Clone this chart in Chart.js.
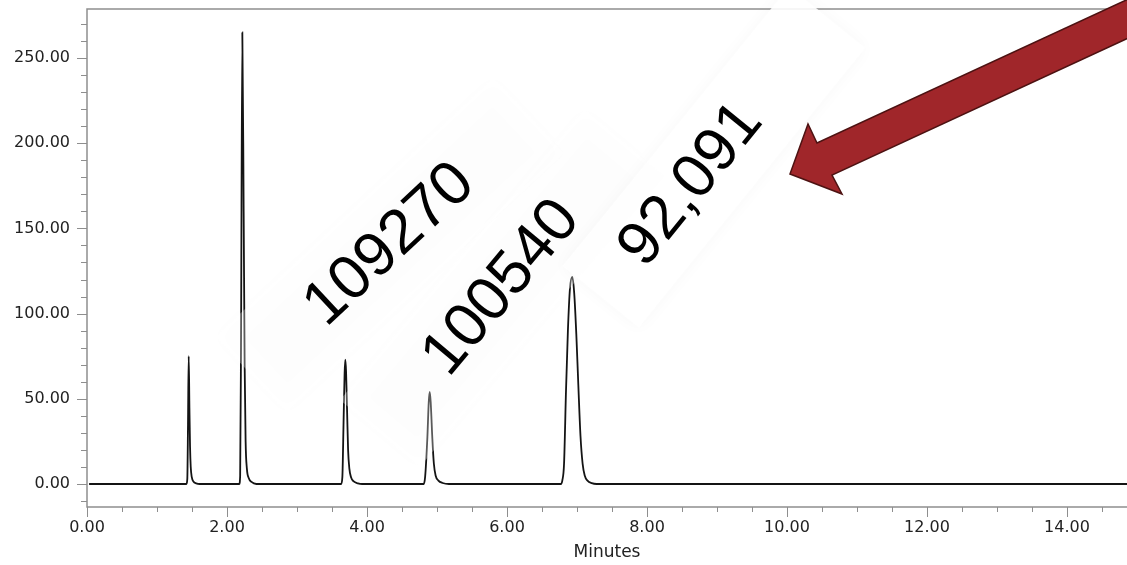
<!DOCTYPE html>
<html>
<head>
<meta charset="utf-8">
<script src="https://cdn.jsdelivr.net/npm/chart.js@4.4.1/dist/chart.umd.min.js"></script>
<style>
  html, body { margin: 0; padding: 0; background: #ffffff; }
  #wrap { width: 1127px; height: 565px; }
</style>
</head>
<body>
<div id="wrap"><canvas id="chrom" width="1127" height="565"></canvas></div>
<script>
// trace: minutes vs detector signal
const traceMinutes = [
  0.03,
  1.42, 1.433, 1.443, 1.453, 1.463, 1.472, 1.482, 1.497, 1.52, 1.56, 1.61,
  2.175, 2.188, 2.2, 2.219, 2.238, 2.252, 2.266, 2.284, 2.31, 2.35, 2.42,
  3.63, 3.648, 3.665, 3.68, 3.69, 3.701, 3.716, 3.73, 3.748, 3.772, 3.81, 3.87, 3.93,
  4.81, 4.83, 4.862, 4.882, 4.896, 4.91, 4.933, 4.955, 4.98, 5.02, 5.08, 5.17,
  6.77, 6.79, 6.815, 6.843, 6.87, 6.9, 6.933, 6.96, 6.99, 7.019, 7.05, 7.08, 7.11, 7.15, 7.21, 7.28,
  14.95
];
const traceSignal = [
  0,
  0, 3, 35, 75, 45, 22, 10, 4, 1.5, 0.4, 0,
  0, 5, 80, 265, 160, 70, 25, 9, 3.5, 1.2, 0,
  0, 4, 36, 65, 73, 66, 42, 20, 9, 4, 1.5, 0.4, 0,
  0, 4, 27, 48, 54, 48, 27, 12, 5, 2, 0.6, 0,
  0, 2, 12, 55, 90, 115, 121.5, 112, 88, 58, 28, 12, 5, 2, 0.5, 0,
  0
];
const xTickValues = [0, 2, 4, 6, 8, 10, 12, 14];
const yTickValues = [0, 50, 100, 150, 200, 250];
const areaLabels = ["109270", "100540", "92,091"];
const xTitle = "Minutes";

const X_MIN = 0, X_MAX = 14.857;
const Y_MIN = -13.5, Y_MAX = 278.75;
const FRAME = "#8e8e8e";
const INK = "#222222";

// rotated labels (canvas pixels), one per entry of areaLabels; tx = text offset along the box
const labelBoxes = [
  { x: 390, y: 245, angle: -43, w: 380, h: 104, tx: 0, alpha: 0.3 },
  { x: 502, y: 288, angle: -50, w: 380, h: 104, tx: 0, alpha: 0.3 },
  { x: 714, y: 157, angle: -51, w: 360, h: 98, tx: -36, alpha: 0.9 },
];
const arrowPts = [[790, 174], [808, 124], [817, 143], [1150, -11], [1150, 28], [832, 175], [842, 194]];

const decor = {
  id: "decor",
  beforeDatasetsDraw(chart) {
    const { ctx, chartArea: a, scales: { x, y } } = chart;
    ctx.save();
    ctx.strokeStyle = FRAME;
    ctx.lineWidth = 1.5;
    ctx.beginPath();
    ctx.moveTo(a.right + 2, a.top);
    ctx.lineTo(a.left, a.top);
    ctx.lineTo(a.left, a.bottom);
    ctx.lineTo(a.right + 2, a.bottom);
    ctx.stroke();

    // major / minor tick marks
    ctx.lineWidth = 1;
    ctx.beginPath();
    for (let v = -10; v <= 270; v += 10) {
      const py = Math.round(y.getPixelForValue(v)) + 0.5;
      const len = v % 50 === 0 ? 10 : 6;
      ctx.moveTo(a.left - len, py);
      ctx.lineTo(a.left, py);
    }
    for (let m = 0; m <= 14.5; m += 0.5) {
      const px = Math.round(x.getPixelForValue(m)) + 0.5;
      const len = m % 2 === 0 ? 10 : 5;
      ctx.moveTo(px, a.bottom);
      ctx.lineTo(px, a.bottom + len);
    }
    ctx.stroke();
    ctx.restore();
  },
  afterDatasetsDraw(chart) {
    const { ctx } = chart;

    // soft white boxes behind the numbers
    labelBoxes.forEach((b) => {
      ctx.save();
      ctx.translate(b.x, b.y);
      ctx.rotate((b.angle * Math.PI) / 180);
      ctx.shadowColor = "rgba(0,0,0,0.035)";
      ctx.shadowBlur = 16;
      ctx.fillStyle = `rgba(255,255,255,${b.alpha})`;
      ctx.fillRect(-b.w / 2, -b.h / 2, b.w, b.h);
      ctx.restore();
    });

    labelBoxes.forEach((b, i) => {
      ctx.save();
      ctx.translate(b.x, b.y);
      ctx.rotate((b.angle * Math.PI) / 180);
      ctx.fillStyle = "#000000";
      ctx.font = '62px "Liberation Sans", Arial, sans-serif';
      ctx.textAlign = "center";
      ctx.textBaseline = "middle";
      ctx.fillText(areaLabels[i], b.tx, 0);
      ctx.restore();
    });

    // red arrow
    ctx.save();
    ctx.beginPath();
    arrowPts.forEach((p, i) => (i ? ctx.lineTo(p[0], p[1]) : ctx.moveTo(p[0], p[1])));
    ctx.closePath();
    ctx.fillStyle = "#a0262a";
    ctx.fill();
    ctx.strokeStyle = "#4d1212";
    ctx.lineWidth = 1.5;
    ctx.lineJoin = "miter";
    ctx.stroke();
    ctx.restore();
  },
};

const points = traceMinutes.map((m, i) => ({ x: m, y: traceSignal[i] }));

new Chart(document.getElementById("chrom"), {
  type: "line",
  data: {
    datasets: [
      {
        data: points,
        borderColor: "#141414",
        borderWidth: 1.8,
        pointRadius: 0,
        fill: false,
        cubicInterpolationMode: "monotone",
      },
    ],
  },
  options: {
    responsive: false,
    animation: false,
    events: [],
    layout: { padding: { top: 9, left: 0, right: 0, bottom: 0 } },
    plugins: { legend: { display: false }, tooltip: { enabled: false } },
    scales: {
      x: {
        type: "linear",
        min: X_MIN,
        max: X_MAX,
        grid: { display: false, drawTicks: false },
        border: { display: false },
        afterBuildTicks: (s) => {
          s.ticks = xTickValues.map((v) => ({ value: v }));
        },
        afterFit: (s) => {
          s.height = 58;
          s.paddingLeft = 0;
          s.paddingRight = 0;
        },
        ticks: {
          padding: 11,
          color: INK,
          autoSkip: false,
          maxRotation: 0,
          font: { family: "DejaVu Sans", size: 16 },
          callback: (v) => Number(v).toFixed(2),
        },
        title: {
          display: true,
          text: xTitle,
          color: INK,
          font: { family: "DejaVu Sans", size: 17 },
          padding: { top: 0, bottom: 2 },
        },
      },
      y: {
        type: "linear",
        min: Y_MIN,
        max: Y_MAX,
        grid: { display: false, drawTicks: false },
        border: { display: false },
        afterBuildTicks: (s) => {
          s.ticks = yTickValues.map((v) => ({ value: v }));
        },
        afterFit: (s) => {
          s.width = 87;
          s.paddingTop = 0;
          s.paddingBottom = 0;
        },
        ticks: {
          padding: 17,
          color: INK,
          font: { family: "DejaVu Sans", size: 16 },
          callback: (v) => Number(v).toFixed(2),
        },
      },
    },
  },
  plugins: [decor],
});
</script>
</body>
</html>
